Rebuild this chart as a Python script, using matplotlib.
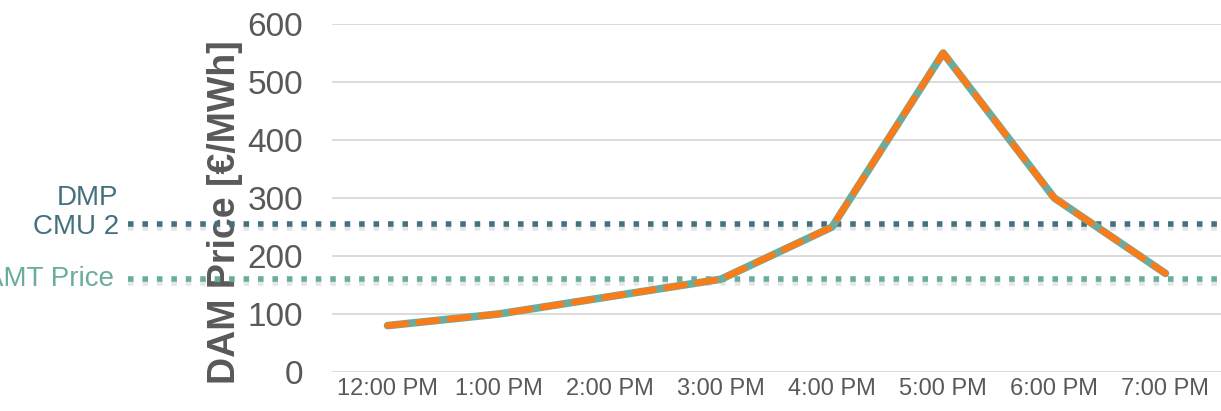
import matplotlib
matplotlib.use("Agg")
import matplotlib.pyplot as plt
import matplotlib.patheffects as pe

# data
hours = ['12:00 PM', '1:00 PM', '2:00 PM', '3:00 PM', '4:00 PM', '5:00 PM', '6:00 PM', '7:00 PM']
dam_price = [80, 100, 130, 160, 250, 550, 300, 170]
cmu2_price = 255
amt_price = 160

plt.rcParams['font.family'] = ['Liberation Sans', 'DejaVu Sans']

fig = plt.figure(figsize=(12.21, 4.11), dpi=100)
ax = fig.add_axes([332 / 1221, 1 - 372 / 411, 889 / 1221, 348 / 411])

x = list(range(len(hours)))
grid_c = '#D9D9D9'
text_c = '#595959'
teal = '#6AADA0'
dark_teal = '#44717F'
orange = '#FA7B17'

for v in range(0, 601, 100):
    ax.axhline(v, color=grid_c, lw=1.3, zorder=1)

# horizontal reference lines, reaching out into the left margin
shadow = [pe.SimpleLineShadow(offset=(0, -2.5), shadow_color='gray', alpha=0.2), pe.Normal()]
tr = ax.get_yaxis_transform()
ax.plot([-0.229, 1.0], [cmu2_price, cmu2_price], transform=tr, color=dark_teal, lw=4,
        linestyle=(0, (1, 1.6)), clip_on=False, zorder=3, path_effects=shadow)
ax.plot([-0.229, 1.0], [amt_price, amt_price], transform=tr, color=teal, lw=4,
        linestyle=(0, (1, 1.6)), clip_on=False, zorder=3, path_effects=shadow)

ax.annotate('DMP\nCMU 2', xy=(-0.24, cmu2_price), xycoords=tr, ha='right', va='baseline',
            xytext=(0, -7), textcoords='offset points', fontsize=20, color=dark_teal,
            linespacing=1.15, annotation_clip=False)
ax.annotate('AMT Price', xy=(-0.245, amt_price), xycoords=tr, ha='right', va='center',
            fontsize=20, color=teal, annotation_clip=False)

# price line: teal solid underneath, orange dashed on top
ax.plot(x, dam_price, color=teal, lw=5.5, solid_joinstyle='round', solid_capstyle='round', zorder=4)
ax.plot(x, dam_price, color=orange, lw=4.5, linestyle=(0, (3, 2)), dash_capstyle='round',
        zorder=5)

ax.set_xlim(-0.5, 7.5)
ax.set_ylim(0, 600)
ax.set_xticks(x)
ax.set_xticklabels(hours, fontsize=17, color=text_c)
ax.set_yticks(range(0, 601, 100))
ax.tick_params(axis='y', labelsize=24, labelcolor=text_c, length=0, pad=21)
ax.tick_params(axis='x', length=0, pad=4)
for s in ax.spines.values():
    s.set_visible(False)

ax.set_ylabel('DAM Price [€/MWh]', fontsize=27, fontweight='bold', color=text_c)
ax.yaxis.set_label_coords(-0.100, 0.46)

fig.savefig('out.png', dpi=100)
